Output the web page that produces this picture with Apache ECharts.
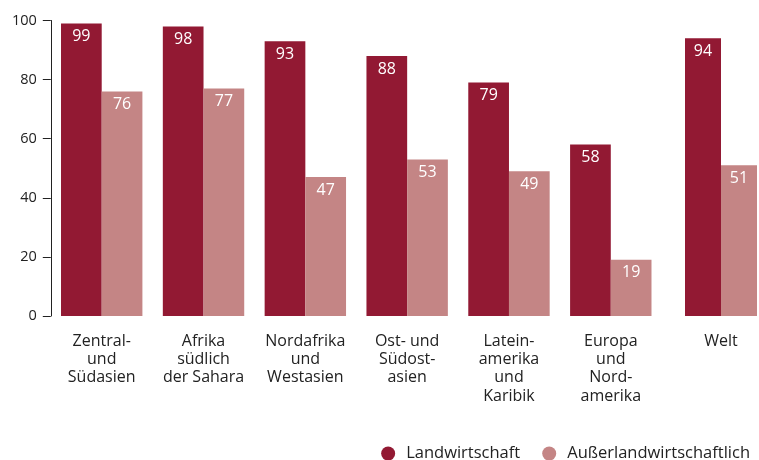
<!DOCTYPE html>
<html><head><meta charset="utf-8">
<script src="https://cdn.jsdelivr.net/npm/echarts@6/dist/echarts.min.js"></script>
<style>html,body{margin:0;padding:0;background:#fff}#c{width:759px;height:460px}</style>
</head><body><div id="c"></div>
<script>
const regions = ['Zentral-\nund\nSüdasien','Afrika\nsüdlich\nder Sahara','Nordafrika\nund\nWestasien','Ost- und\nSüdost-\nasien','Latein-\namerika\nund\nKaribik','Europa\nund\nNord-\namerika'];
const worldCat = ['Welt'];
const agri = [99, 98, 93, 88, 79, 58];
const nonAgri = [76, 77, 47, 53, 49, 19];
const worldAgri = [94];
const worldNonAgri = [51];
const seriesNames = ['Landwirtschaft', 'Außerlandwirtschaftlich'];
const yTicks = [0, 20, 40, 60, 80, 100];

const FONT = 'Open Sans';
const DARK = '#921933', PINK = '#C48585', TXT = '#222';
const chart = echarts.init(document.getElementById('c'), null, {renderer:'canvas'});
const xLabel = {color: TXT, fontFamily: FONT, fontSize: 16, lineHeight: 18.3, margin: 16, interval: 0};
const barLabel = {show: true, position: 'insideTop', distance: 5, color: '#fff', fontFamily: FONT, fontSize: 16};
const BW = 40.7;
chart.setOption({
  animation: false,
  textStyle: {fontFamily: FONT},
  grid: [
    {left: 50.8, right: 97.3, top: 20.5, bottom: 144, containLabel: false},
    {left: 685, right: 2, top: 20.5, bottom: 144, containLabel: false}
  ],
  legend: {
    data: seriesNames, right: 4, top: 440, icon: 'circle', itemWidth: 14, itemHeight: 14, itemGap: 22,
    textStyle: {color: TXT, fontFamily: FONT, fontSize: 16.5, padding: [0,0,0,6]}
  },
  xAxis: [
    {type: 'category', gridIndex: 0, data: regions, axisLine: {show: false}, axisTick: {show: false}, axisLabel: xLabel},
    {type: 'category', gridIndex: 1, data: worldCat, axisLine: {show: false}, axisTick: {show: false}, axisLabel: xLabel}
  ],
  yAxis: [
    {type: 'value', gridIndex: 0, min: yTicks[0], max: yTicks[yTicks.length-1], interval: 20,
     axisLine: {show: true, lineStyle: {color: '#222', width: 1}},
     axisTick: {show: true, length: 8, lineStyle: {color: '#222'}},
     splitLine: {show: false},
     axisLabel: {color: TXT, fontFamily: FONT, fontSize: 14.5, margin: 14}},
    {type: 'value', gridIndex: 1, min: 0, max: 100, interval: 20, show: false, splitLine: {show: false}}
  ],
  series: [
    {name: seriesNames[0], type: 'bar', xAxisIndex: 0, yAxisIndex: 0, data: agri, barWidth: BW, barGap: '0%', itemStyle: {color: DARK}, label: barLabel},
    {name: seriesNames[1], type: 'bar', xAxisIndex: 0, yAxisIndex: 0, data: nonAgri, barWidth: BW, barGap: '0%', itemStyle: {color: PINK}, label: barLabel},
    {name: seriesNames[0], type: 'bar', xAxisIndex: 1, yAxisIndex: 1, data: worldAgri, barWidth: BW, barGap: '0%', itemStyle: {color: DARK}, label: barLabel},
    {name: seriesNames[1], type: 'bar', xAxisIndex: 1, yAxisIndex: 1, data: worldNonAgri, barWidth: BW, barGap: '0%', itemStyle: {color: PINK}, label: barLabel}
  ]
});
</script></body></html>
